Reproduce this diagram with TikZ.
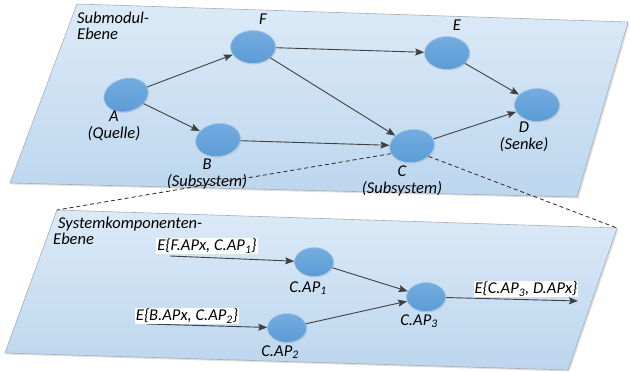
\documentclass[tikz,border=0pt]{standalone}
\usepackage{fontspec}
\setmainfont{Carlito}
\usetikzlibrary{shapes.geometric,arrows.meta,shadows}

\definecolor{planetop}{HTML}{DCEAF7}
\definecolor{planebot}{HTML}{BCD6EE}
\definecolor{planeedge}{HTML}{A6AEB8}
\definecolor{nodetop}{HTML}{74ADE0}
\definecolor{nodebot}{HTML}{5B9BD5}
\definecolor{nodeedge}{HTML}{A9C8E6}
\definecolor{linkgray}{HTML}{404040}

\tikzset{
  plane/.style={draw=planeedge, line width=0.6pt, top color=planetop, bottom color=planebot,
    drop shadow={opacity=0.25, shadow xshift=1.5pt, shadow yshift=-1.5pt}},
  comp/.style={ellipse, minimum width=45pt, minimum height=33pt, inner sep=0pt,
    draw=nodeedge, line width=0.6pt, top color=nodetop, bottom color=nodebot,
    drop shadow={opacity=0.2, shadow xshift=1pt, shadow yshift=-1pt}},
  subcomp/.style={comp, minimum width=39pt, minimum height=29pt},
  lbl/.style={font=\fontsize{16.5}{16.5}\selectfont\itshape, inner sep=0pt, align=center},
  edgelbl/.style={lbl, fill=white, inner sep=1pt},
  link/.style={draw=linkgray, line width=0.9pt, -{Stealth[length=9pt,width=7pt,inset=1.5pt]}},
  zoomline/.style={draw=black!85, line width=0.8pt, dash pattern=on 4pt off 3pt},
}

\begin{document}
\begin{tikzpicture}[x=1pt,y=-1pt]
\useasboundingbox (0,0) rectangle (630,372);

% the two levels
\coordinate (u1) at (77,4);
\coordinate (u2) at (628,22);
\coordinate (u3) at (577,197);
\coordinate (u4) at (10,183);
\coordinate (l1) at (57,210);
\coordinate (l2) at (617,228);
\coordinate (l3) at (568,370);
\coordinate (l4) at (5,353);
\path[plane] (u1) -- (u2) -- (u3) -- (u4) -- cycle;
\path[plane] (l1) -- (l2) -- (l3) -- (l4) -- cycle;

\node[lbl, anchor=west, align=left] (uplevel) at (77,26) {Submodul-\\Ebene};
\node[lbl, anchor=west, align=left] (lowlevel) at (53,231) {\hspace*{5pt}Systemkomponenten-\\Ebene};

% submodule graph
\node[comp, rotate=15] (A) at (126,95) {};
\node[comp] (F) at (253,47) {};
\node[comp, rotate=8] (B) at (218,140) {};
\node[comp] (E) at (447,53) {};
\node[comp] (D) at (537,105) {};
\node[comp, rotate=8] (C) at (412,146) {};

\node[lbl] (Fl) at (263,19) {F};
\node[lbl] (El) at (457,25) {E};
\node[lbl] (Al) at (114,126) {A\\(Quelle)};
\node[lbl] (Bl) at (207,174) {B\\(Subsystem)};
\node[lbl] (Cl) at (402,181) {C\\(Subsystem)};
\node[lbl] (Dl) at (524,137) {D\\(Senke)};

\draw[link] (A) -- (F);
\draw[link] (A) -- (B);
\draw[link] (F) -- (E);
\draw[link] (F) -- (C);
\draw[link] (B) -- (C);
\draw[link] (C) -- (D);
\draw[link] (E) -- (D);

% zoom into subsystem C
\draw[zoomline] (C.192) -- (l1);
\draw[zoomline] (C.-40) -- (l2);

% components of C
\node[subcomp] (ap1) at (314,262) {};
\node[subcomp] (ap2) at (287,328) {};
\node[subcomp] (ap3) at (426,297) {};
\node[lbl] (ap1l) at (308,288) {C.AP\textsubscript{1}};
\node[lbl] (ap2l) at (280,352) {C.AP\textsubscript{2}};
\node[lbl] (ap3l) at (419,321) {C.AP\textsubscript{3}};

\coordinate (in1) at (170,256);
\coordinate (in2) at (147,324);
\coordinate (out3) at (578,301);

\draw[link] (in1) -- (ap1);
\draw[link] (in2) -- (ap2);
\draw[link] (ap1) -- (ap3);
\draw[link] (ap2) -- (ap3);
\draw[link] (ap3) -- (out3);

\node[edgelbl] (e1) at (207,246) {E\{F.APx, C.AP\textsubscript{1}\}};
\node[edgelbl] (e2) at (187,316) {E\{B.APx, C.AP\textsubscript{2}\}};
\node[edgelbl] (e3) at (526,289) {E\{C.AP\textsubscript{3}, D.APx\}};
\end{tikzpicture}
\end{document}
